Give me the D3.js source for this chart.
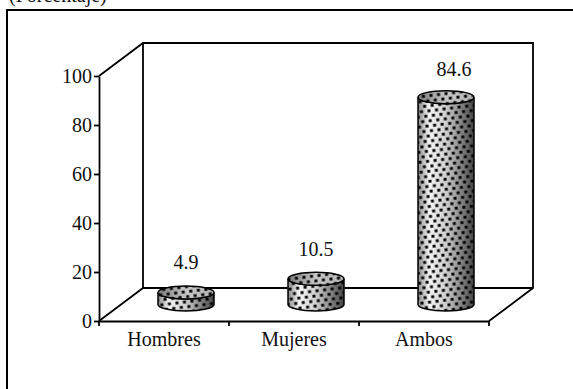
<!DOCTYPE html>
<html>
<head>
<meta charset="utf-8">
<script src="https://cdn.jsdelivr.net/npm/d3@7"></script>
<style>
  html, body { margin: 0; padding: 0; background: #fff; }
  svg { display: block; }
  text { font-family: "Liberation Serif", serif; fill: #111; }
</style>
</head>
<body>
<div id="chart"></div>
<script>
// data
var categories = ["Hombres", "Mujeres", "Ambos"];
var values = [4.9, 10.5, 84.6];
var yTicks = [0, 20, 40, 60, 80, 100];
var title = "(Porcentaje)";

var width = 573, height = 389;
var fontSize = 20;
var lineW = 1.8;

// front face of the 3d box, and how far the back wall is shifted
var plotLeft = 99, plotRight = 489, plotTop = 76, plotBottom = 321;
var depthX = 44, depthY = -33;

var svg = d3.select("#chart").append("svg")
  .attr("width", width)
  .attr("height", height);

var x = d3.scaleBand().domain(categories).range([plotLeft, plotRight]);
var y = d3.scaleLinear().domain([0, 100]).range([plotBottom, plotTop]);

var defs = svg.append("defs");

// shading of the cylinder wall, left to right
var sideGrad = defs.append("linearGradient").attr("id", "side");
[[0, "#8a8a8a"], [0.2, "#f6f6f6"], [0.5, "#cfcfcf"], [0.8, "#7c7c7c"], [1, "#444"]].forEach(function(s) {
  sideGrad.append("stop").attr("offset", s[0]).attr("stop-color", s[1]);
});
var topGrad = defs.append("linearGradient").attr("id", "cap");
[[0, "#7c7c7c"], [0.5, "#c8c8c8"], [1, "#b4b4b4"]].forEach(function(s) {
  topGrad.append("stop").attr("offset", s[0]).attr("stop-color", s[1]);
});

// staggered dot pattern
var dots = defs.append("pattern")
  .attr("id", "dots")
  .attr("patternUnits", "userSpaceOnUse")
  .attr("patternTransform", "rotate(-7)")
  .attr("width", 7.6)
  .attr("height", 10);
dots.append("rect").attr("x", 0.4).attr("y", 0.8).attr("width", 3).attr("height", 2.9).attr("fill", "#000");
dots.append("rect").attr("x", 4.2).attr("y", 5.8).attr("width", 3).attr("height", 2.9).attr("fill", "#000");

// outer frame, only top and left are inside the picture
svg.append("path")
  .attr("d", "M7,389V10H573")
  .attr("fill", "none")
  .attr("stroke", "#000")
  .attr("stroke-width", 2);

// back wall and floor
var box = d3.path();
box.moveTo(plotLeft, plotTop);
box.lineTo(plotLeft + depthX, plotTop + depthY);
box.lineTo(plotRight + depthX, plotTop + depthY);
box.lineTo(plotRight + depthX, plotBottom + depthY);
box.lineTo(plotRight, plotBottom);
box.moveTo(plotLeft + depthX, plotTop + depthY);
box.lineTo(plotLeft + depthX, plotBottom + depthY);
box.lineTo(plotRight + depthX, plotBottom + depthY);
box.moveTo(plotLeft + depthX, plotBottom + depthY);
box.lineTo(plotLeft, plotBottom);
svg.append("path")
  .attr("d", box.toString())
  .attr("fill", "none")
  .attr("stroke", "#000")
  .attr("stroke-width", lineW);

// axes
var yAxis = d3.axisLeft(y).tickValues(yTicks).tickSize(5).tickPadding(2).tickFormat(d3.format("d")).tickSizeOuter(0);
var gy = svg.append("g").attr("transform", "translate(" + plotLeft + ",0)").call(yAxis);
var xAxis = d3.axisBottom(x).tickSize(0).tickPadding(11).tickSizeOuter(0);
var gx = svg.append("g").attr("transform", "translate(0," + plotBottom + ")").call(xAxis);

// band edges get the tick marks, not the centres
gx.selectAll(".edge")
  .data(x.domain().concat("end"))
  .enter().append("line")
  .attr("class", "edge")
  .attr("x1", function(d) { return d == "end" ? x.range()[1] : x(d); })
  .attr("x2", function(d) { return d == "end" ? x.range()[1] : x(d); })
  .attr("y1", 0)
  .attr("y2", 5)
  .attr("stroke", "#000")
  .attr("stroke-width", lineW);

svg.selectAll(".domain").attr("stroke", "#000").attr("stroke-width", lineW);
svg.selectAll(".tick line").attr("stroke", "#000").attr("stroke-width", lineW);
svg.selectAll(".tick text")
  .style("font-family", '"Liberation Serif", serif')
  .style("font-size", fontSize + "px")
  .attr("fill", "#111");

// cylinders
var rx = 28, ry = 6.5;
function cx(d) { return x(d) + x.bandwidth() / 2 + depthX / 2; }
function topY(v) { return y(v) + depthY / 2; }
var baseY = y(0) + depthY / 2;

function sidePath(c, v) {
  var t = topY(v);
  return "M" + (c - rx) + "," + t +
    "V" + baseY +
    "A" + rx + "," + ry + " 0 0 0 " + (c + rx) + "," + baseY +
    "V" + t +
    "A" + rx + "," + ry + " 0 0 1 " + (c - rx) + "," + t + "Z";
}

var bars = svg.selectAll(".bar")
  .data(categories)
  .enter().append("g")
  .attr("class", "bar");

function drawSide(fill, stroke) {
  bars.append("path")
    .attr("d", function(d, i) { return sidePath(cx(d), values[i]); })
    .attr("fill", fill)
    .attr("stroke", stroke)
    .attr("stroke-width", 1.5);
}
function drawCap(fill, stroke) {
  bars.append("ellipse")
    .attr("cx", function(d) { return cx(d); })
    .attr("cy", function(d, i) { return topY(values[i]); })
    .attr("rx", rx)
    .attr("ry", ry)
    .attr("fill", fill)
    .attr("stroke", stroke)
    .attr("stroke-width", 1.5);
}
drawSide("url(#side)", "none");
drawSide("url(#dots)", "#000");
drawCap("url(#cap)", "none");
drawCap("url(#dots)", "#000");

// value labels, the tall bar's label sits a bit to the right in the original
svg.selectAll(".val")
  .data(categories)
  .enter().append("text")
  .attr("class", "val")
  .attr("x", function(d, i) { return cx(d) + (i == 2 ? 8 : 0); })
  .attr("y", function(d, i) { return topY(values[i]) + (i == 2 ? -21 : -23); })
  .attr("text-anchor", "middle")
  .style("font-size", fontSize + "px")
  .text(function(d, i) { return values[i]; });

svg.append("text")
  .attr("x", 9)
  .attr("y", 2)
  .style("font-size", fontSize + "px")
  .text(title);
</script>
</body>
</html>
